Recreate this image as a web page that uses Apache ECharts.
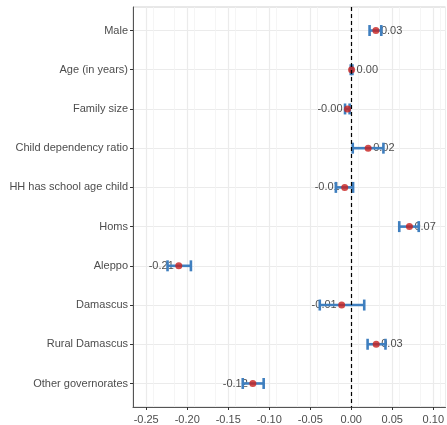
<!DOCTYPE html>
<html>
<head>
<meta charset="utf-8">
<script src="https://cdn.jsdelivr.net/npm/echarts@6/dist/echarts.min.js"></script>
<style>
  html, body { margin: 0; padding: 0; background: #ffffff; }
  #chart { width: 447px; height: 425px; }
</style>
</head>
<body>
<div id="chart"></div>
<script>
// Coefficient plot: point estimates with confidence intervals
const categories = [
  'Male', 'Age (in years)', 'Family size', 'Child dependency ratio',
  'HH has school age child', 'Homs', 'Aleppo', 'Damascus',
  'Rural Damascus', 'Other governorates'
];
const estimates = [0.0300, 0.0004, -0.0046, 0.0206, -0.0080, 0.0709, -0.2103, -0.0117, 0.0304, -0.1200];
const lowerCI   = [0.0223, -0.0006, -0.0076, 0.0018, -0.0188, 0.0585, -0.2240, -0.0384, 0.0199, -0.1323];
const upperCI   = [0.0366, 0.0014, -0.0020, 0.0392, 0.0022, 0.0822, -0.1955, 0.0158, 0.0417, -0.1068];
const xTicks = [-0.25, -0.20, -0.15, -0.10, -0.05, 0.00, 0.05, 0.10];

const FONT = 'Liberation Sans, Arial, Helvetica, sans-serif';
const rowIdx = categories.map((_, i) => i + 1);

const pointData = estimates.map((v, i) => [v, rowIdx[i]]);
const ciData = estimates.map((v, i) => [lowerCI[i], upperCI[i], rowIdx[i]]);
const labelData = estimates.map((v, i) => ({
  value: [v, rowIdx[i]],
  label: { position: v < 0 ? 'left' : 'right' }
}));

const chart = echarts.init(document.getElementById('chart'), null, { renderer: 'canvas' });

chart.setOption({
  animation: false,
  backgroundColor: '#ffffff',
  grid: {
    left: 133, right: 0, top: 7, bottom: 17,
    show: true, borderColor: '#D0D0D0', borderWidth: 1, backgroundColor: '#ffffff'
  },
  xAxis: [
    {
      type: 'value',
      min: -0.2661, max: 0.1149, interval: 0.05,
      axisLine: { show: true, onZero: false, lineStyle: { color: '#555555', width: 1 } },
      axisTick: { show: true, length: 3, customValues: xTicks, lineStyle: { color: '#333333' } },
      axisLabel: {
        customValues: xTicks, margin: 7, color: '#4D4D4D', fontSize: 11, fontFamily: FONT,
        formatter: v => v.toFixed(2)
      },
      splitLine: { show: true, lineStyle: { color: '#EBEBEB', width: 1.2 } }
    },
    {
      type: 'value',
      min: -0.2661, max: 0.1149, interval: 0.025,
      axisLine: { show: false }, axisTick: { show: false }, axisLabel: { show: false },
      splitLine: { show: true, lineStyle: { color: '#F3F3F3', width: 0.8 } }
    }
  ],
  yAxis: {
    type: 'value',
    inverse: true,
    min: 0.4, max: 10.6, interval: 1,
    axisLine: { show: true, onZero: false, lineStyle: { color: '#555555', width: 1 } },
    axisTick: { show: true, length: 3, customValues: rowIdx, lineStyle: { color: '#333333' } },
    axisLabel: {
      customValues: rowIdx, margin: 5, color: '#4D4D4D', fontSize: 11, fontFamily: FONT,
      formatter: v => categories[Math.round(v) - 1] || ''
    },
    splitLine: { show: true, lineStyle: { color: '#EBEBEB', width: 1.2 } }
  },
  series: [
    {
      // value labels, drawn beneath the interval bars
      type: 'scatter',
      z: 1,
      symbolSize: 0,
      data: labelData,
      label: {
        show: true, distance: 5, color: '#1A1A1A', fontSize: 11, fontFamily: FONT,
        formatter: p => p.value[0].toFixed(2)
      },
      markLine: {
        silent: true, symbol: 'none',
        label: { show: false },
        lineStyle: { color: '#000000', type: [4, 3], width: 1.2 },
        data: [{ xAxis: 0 }]
      }
    },
    {
      // confidence interval bars with end caps
      type: 'custom',
      z: 2,
      data: ciData,
      encode: { x: [0, 1], y: 2 },
      renderItem: (params, api) => {
        const y = api.value(2);
        const a = api.coord([api.value(0), y]);
        const b = api.coord([api.value(1), y]);
        const h = api.size([0, 1])[1] * 0.14;
        const style = { stroke: '#3F7FBF', lineWidth: 2.6, fill: null };
        return {
          type: 'group',
          children: [
            { type: 'line', shape: { x1: a[0], y1: a[1], x2: b[0], y2: b[1] }, style },
            { type: 'line', shape: { x1: a[0], y1: a[1] - h, x2: a[0], y2: a[1] + h }, style },
            { type: 'line', shape: { x1: b[0], y1: b[1] - h, x2: b[0], y2: b[1] + h }, style }
          ]
        };
      }
    },
    {
      // point estimates
      type: 'scatter',
      z: 3,
      symbol: 'circle',
      symbolSize: 7,
      itemStyle: { color: '#C8211E' },
      data: pointData
    }
  ]
});
</script>
</body>
</html>
